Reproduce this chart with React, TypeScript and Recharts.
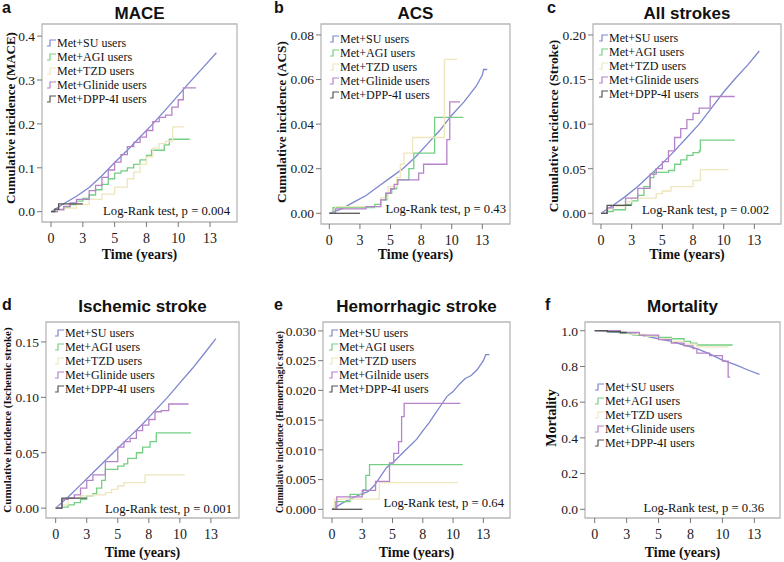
import React from "react";
import { LineChart, Line, XAxis, YAxis, ReferenceArea } from "recharts";

type Pt = [number, number];

const SERIES_NAMES = ["Met+SU users", "Met+AGI users", "Met+TZD users", "Met+Glinide users", "Met+DPP-4I users"];
const SERIES_NAMES_E = ["Met+SU users", "Met+AGI users", "Met+TZD users", "Met+Gilnide users", "Met+DPP-4I users"];
const COLORS = ["#7d87cf", "#74cf84", "#eee6bd", "#b583c9", "#555555"];
const LINE_TYPES = ["linear", "stepAfter", "stepAfter", "stepAfter", "stepAfter"] as const;

const X_TICKS = [0, 2.5, 5, 7.5, 10, 12.5];
const X_TICK_LABELS = ["0", "3", "5", "8", "10", "13"];

// a - MACE
const MACE_Y_TICKS = [0, 0.1, 0.2, 0.3, 0.4];
const MACE_SU: Pt[] = [[0, 0], [1, 0.018], [2, 0.035], [3, 0.055], [4, 0.082], [5, 0.112], [6, 0.14], [7, 0.17], [8, 0.2], [9, 0.232], [10, 0.265], [11, 0.298], [12, 0.33], [13, 0.362]];
const MACE_AGI: Pt[] = [[0, 0], [0.5, 0.004], [1, 0.01], [1.5, 0.016], [2, 0.024], [2.5, 0.03], [3, 0.038], [3.5, 0.05], [4, 0.062], [4.5, 0.075], [5, 0.088], [5.5, 0.093], [6, 0.1], [6.5, 0.108], [7, 0.118], [7.5, 0.128], [7.9, 0.14], [8.7, 0.14], [8.9, 0.152], [9.3, 0.165], [10.9, 0.165]];
const MACE_TZD: Pt[] = [[0, 0], [0.5, 0.003], [1, 0.008], [2, 0.016], [3, 0.028], [4, 0.04], [5, 0.056], [6, 0.075], [6.5, 0.09], [7, 0.108], [7.5, 0.125], [8, 0.145], [8.5, 0.155], [9, 0.16], [9.56, 0.193], [10.45, 0.193]];
const MACE_GLINIDE: Pt[] = [[0, 0], [0.5, 0.005], [1, 0.012], [1.5, 0.02], [2, 0.028], [3, 0.048], [3.5, 0.06], [4, 0.078], [4.5, 0.095], [5, 0.113], [5.5, 0.13], [6, 0.148], [6.5, 0.158], [7, 0.17], [7.5, 0.185], [8, 0.205], [8.5, 0.215], [9, 0.22], [9.5, 0.238], [10, 0.255], [10.4, 0.282], [11.4, 0.282]];
const MACE_DPP: Pt[] = [[0, 0], [0.3, 0.006], [0.6, 0.018], [2.5, 0.018]];

// b - ACS
const ACS_Y_TICKS = [0, 0.02, 0.04, 0.06, 0.08];
const ACS_SU: Pt[] = [[0, 0], [1, 0.002], [2, 0.005], [3, 0.008], [4, 0.012], [5, 0.016], [6, 0.02], [7, 0.025], [8, 0.031], [9, 0.037], [10, 0.044], [11, 0.05], [12, 0.057], [12.5, 0.062], [12.6, 0.0645], [12.9, 0.0645]];
const ACS_AGI: Pt[] = [[0, 0], [0.3, 0.0025], [3.5, 0.0025], [3.7, 0.004], [4.2, 0.006], [4.7, 0.009], [5.1, 0.011], [5.5, 0.015], [6.5, 0.02], [6.9, 0.027], [8.6, 0.043], [10.95, 0.043]];
const ACS_TZD: Pt[] = [[0, 0], [0.5, 0.003], [3.8, 0.003], [4.2, 0.007], [4.8, 0.012], [5.5, 0.016], [5.8, 0.022], [6.1, 0.027], [6.8, 0.034], [9.4, 0.069], [10.46, 0.069]];
const ACS_GLINIDE: Pt[] = [[0, 0], [0.5, 0.002], [3, 0.003], [4.2, 0.006], [4.6, 0.009], [5, 0.011], [5.3, 0.013], [5.6, 0.015], [7.07, 0.015], [7.3, 0.018], [7.7, 0.022], [9.4, 0.022], [9.6, 0.033], [9.84, 0.05], [10.68, 0.05]];
const ACS_DPP: Pt[] = [[0, 0], [2.5, 0]];

// c - All strokes
const STROKE_Y_TICKS = [0, 0.05, 0.1, 0.15, 0.2];
const STROKE_SU: Pt[] = [[0, 0], [1, 0.009], [2, 0.019], [3, 0.03], [4, 0.043], [5, 0.056], [6, 0.07], [7, 0.085], [8, 0.1], [9, 0.118], [10, 0.136], [11, 0.152], [12, 0.167], [12.9, 0.182]];
const STROKE_AGI: Pt[] = [[0, 0], [0.5, 0.002], [1, 0.004], [2, 0.01], [2.5, 0.014], [3, 0.02], [3.5, 0.03], [4, 0.04], [4.3, 0.046], [5.5, 0.048], [6, 0.055], [6.5, 0.06], [7, 0.065], [7.5, 0.068], [8, 0.07], [8.1, 0.082], [10.9, 0.082]];
const STROKE_TZD: Pt[] = [[0, 0], [0.5, 0.005], [1, 0.008], [2, 0.013], [2.5, 0.017], [4.3, 0.017], [4.5, 0.022], [5, 0.025], [5.7, 0.03], [7.5, 0.037], [8.1, 0.049], [10.4, 0.049]];
const STROKE_GLINIDE: Pt[] = [[0, 0], [0.5, 0.006], [1, 0.009], [2, 0.017], [3, 0.028], [4, 0.044], [4.5, 0.05], [5, 0.058], [5.5, 0.07], [6, 0.085], [6.5, 0.095], [7, 0.105], [7.5, 0.112], [8, 0.118], [8.9, 0.131], [10.9, 0.131]];
const STROKE_DPP: Pt[] = [[0, 0], [0.5, 0.009], [2.5, 0.009]];

// d - Ischemic stroke
const ISCH_Y_TICKS = [0, 0.05, 0.1, 0.15];
const ISCH_SU: Pt[] = [[0, 0], [1, 0.01], [2, 0.021], [3, 0.032], [4, 0.043], [5, 0.054], [6, 0.065], [7, 0.076], [8, 0.088], [9, 0.1], [10, 0.113], [11, 0.126], [12, 0.14], [12.9, 0.153]];
const ISCH_AGI: Pt[] = [[0, 0], [0.5, 0.001], [1, 0.003], [1.5, 0.005], [2, 0.008], [2.5, 0.011], [3, 0.013], [3.3, 0.018], [3.7, 0.025], [4, 0.035], [4.5, 0.035], [5, 0.038], [5.5, 0.04], [5.8, 0.045], [6.5, 0.05], [7, 0.055], [7.6, 0.06], [8.1, 0.068], [10.9, 0.068]];
const ISCH_TZD: Pt[] = [[0, 0], [0.5, 0.003], [1, 0.009], [2, 0.011], [3, 0.012], [4, 0.014], [4.5, 0.017], [5, 0.02], [5.5, 0.023], [7.2, 0.03], [10.4, 0.03]];
const ISCH_GLINIDE: Pt[] = [[0, 0], [0.5, 0.008], [1, 0.009], [1.5, 0.012], [2, 0.018], [2.5, 0.025], [3, 0.03], [4, 0.042], [5, 0.055], [5.5, 0.06], [6, 0.063], [6.5, 0.07], [7, 0.075], [7.5, 0.08], [8, 0.087], [8.5, 0.088], [9.1, 0.094], [10.7, 0.094]];
const ISCH_DPP: Pt[] = [[0, 0], [0.5, 0.009], [2.5, 0.009]];

// e - Hemorrhagic stroke
const HEM_Y_TICKS = [0, 0.005, 0.01, 0.015, 0.02, 0.025, 0.03];
const HEM_SU: Pt[] = [[0, 0], [1, 0.0012], [2, 0.0022], [3, 0.003], [3.5, 0.004], [4, 0.0055], [4.5, 0.007], [5, 0.0078], [6, 0.0098], [7, 0.0118], [7.5, 0.0132], [8, 0.0145], [8.5, 0.016], [9, 0.0175], [9.5, 0.019], [10, 0.0198], [10.5, 0.021], [11, 0.022], [11.5, 0.0225], [12, 0.0235], [12.5, 0.025], [12.7, 0.026], [13, 0.026]];
const HEM_AGI: Pt[] = [[0, 0], [0.3, 0.0013], [1.5, 0.0025], [2.6, 0.0033], [2.8, 0.0057], [3.1, 0.0075], [10.8, 0.0075]];
const HEM_TZD: Pt[] = [[0, 0], [0.2, 0.0017], [3.7, 0.0017], [3.9, 0.0045], [10.4, 0.0045]];
const HEM_GLINIDE: Pt[] = [[0, 0], [0.4, 0.0021], [2.3, 0.0021], [2.5, 0.0032], [3.5, 0.0032], [3.6, 0.0047], [4.7, 0.0047], [4.75, 0.0078], [5.1, 0.0094], [5.5, 0.0114], [5.75, 0.0156], [5.96, 0.0178], [10.6, 0.0178]];
const HEM_DPP: Pt[] = [[0, 0], [2.5, 0]];

// f - Mortality
const MORT_Y_TICKS = [0, 0.2, 0.4, 0.6, 0.8, 1.0];
const MORT_SU: Pt[] = [[0, 1], [1, 0.995], [2, 0.99], [3, 0.983], [4, 0.97], [5, 0.955], [6, 0.94], [7, 0.92], [8, 0.9], [9, 0.87], [10, 0.835], [11, 0.81], [12, 0.78], [12.9, 0.755]];
const MORT_AGI: Pt[] = [[0, 1], [1, 0.993], [2, 0.985], [3, 0.975], [4, 0.97], [5, 0.962], [6, 0.955], [7, 0.94], [7.5, 0.93], [8, 0.92], [10.8, 0.92]];
const MORT_TZD: Pt[] = [[0, 1], [2, 0.99], [3, 0.98], [4, 0.97], [5, 0.955], [6, 0.94], [7, 0.925], [8, 0.91], [10.4, 0.905]];
const MORT_GLINIDE: Pt[] = [[0, 1], [2, 0.99], [3, 0.99], [3.5, 0.975], [5, 0.95], [6, 0.93], [7, 0.915], [7.7, 0.9], [8, 0.875], [9, 0.86], [10, 0.83], [10.45, 0.74], [10.6, 0.74]];
const MORT_DPP: Pt[] = [[0, 1], [1, 0.995], [2, 0.99], [2.5, 0.99]];

const SERIF = '"Liberation Serif", "Times New Roman", serif';
const SANS_NARROW = '"Liberation Sans Narrow", "Liberation Sans", Arial, sans-serif';
const SANS = '"Liberation Sans", Arial, sans-serif';

interface Panel {
  letter: string;
  letterX: number;
  letterY: number;
  title: string;
  titleY: number;
  frame: { l: number; t: number; r: number; b: number };
  xDomain: [number, number];
  yDomain: [number, number];
  yTicks: number[];
  digits: number;
  yLabel: string;
  yLabelSize: number;
  yLabelPos: [number, number];
  xLabelY: number;
  series: Pt[][];
  names: string[];
  legend: [number, number];
  pText: string;
  pPos: [number, number];
}

const PANELS: Panel[] = [
  {
    letter: "a", letterX: 2, letterY: 13, title: "MACE", titleY: 19,
    frame: { l: 42, t: 24, r: 237, b: 222 },
    xDomain: [-0.71, 14.62], yDomain: [-0.0235, 0.4276], yTicks: MACE_Y_TICKS, digits: 1,
    yLabel: "Cumulative incidence (MACE)", yLabelSize: 13, yLabelPos: [10, 118], xLabelY: 259,
    series: [MACE_SU, MACE_AGI, MACE_TZD, MACE_GLINIDE, MACE_DPP], names: SERIES_NAMES,
    legend: [47, 43], pText: "Log-Rank test, p = 0.004", pPos: [230, 211],
  },
  {
    letter: "b", letterX: 274, letterY: 13, title: "ACS", titleY: 19,
    frame: { l: 321, t: 24, r: 510, b: 224 },
    xDomain: [-0.68, 14.76], yDomain: [-0.0048, 0.0849], yTicks: ACS_Y_TICKS, digits: 2,
    yLabel: "Cumulative incidence (ACS)", yLabelSize: 13.3, yLabelPos: [281, 122], xLabelY: 259,
    series: [ACS_SU, ACS_AGI, ACS_TZD, ACS_GLINIDE, ACS_DPP], names: SERIES_NAMES,
    legend: [330, 39], pText: "Log-Rank test, p = 0.43", pPos: [506, 209],
  },
  {
    letter: "c", letterX: 547, letterY: 13, title: "All strokes", titleY: 19,
    frame: { l: 593, t: 24, r: 781, b: 224 },
    xDomain: [-0.65, 14.67], yDomain: [-0.012, 0.2123], yTicks: STROKE_Y_TICKS, digits: 2,
    yLabel: "Cumulative incidence (Stroke)", yLabelSize: 13.3, yLabelPos: [553, 126], xLabelY: 259,
    series: [STROKE_SU, STROKE_AGI, STROKE_TZD, STROKE_GLINIDE, STROKE_DPP], names: SERIES_NAMES,
    legend: [599, 38], pText: "Log-Rank test, p = 0.002", pPos: [769, 210],
  },
  {
    letter: "d", letterX: 2, letterY: 310, title: "Ischemic stroke", titleY: 312,
    frame: { l: 46, t: 322, r: 239, b: 518 },
    xDomain: [-0.78, 14.76], yDomain: [-0.0089, 0.168], yTicks: ISCH_Y_TICKS, digits: 2,
    yLabel: "Cumulative incidence (Ischemic stroke)", yLabelSize: 11, yLabelPos: [7, 420], xLabelY: 557,
    series: [ISCH_SU, ISCH_AGI, ISCH_TZD, ISCH_GLINIDE, ISCH_DPP], names: SERIES_NAMES,
    legend: [55, 333], pText: "Log-Rank test, p = 0.001", pPos: [232, 509],
  },
  {
    letter: "e", letterX: 274, letterY: 310, title: "Hemorrhagic stroke", titleY: 312,
    frame: { l: 323, t: 322, r: 510, b: 518 },
    xDomain: [-0.74, 14.7], yDomain: [-0.00146, 0.0315], yTicks: HEM_Y_TICKS, digits: 3,
    yLabel: "Cumulative incidence (Hemorrhagic stroke)", yLabelSize: 9.7, yLabelPos: [279, 422], xLabelY: 557,
    series: [HEM_SU, HEM_AGI, HEM_TZD, HEM_GLINIDE, HEM_DPP], names: SERIES_NAMES_E,
    legend: [329, 333], pText: "Log-Rank test, p = 0.64", pPos: [504, 503],
  },
  {
    letter: "f", letterX: 545, letterY: 310, title: "Mortality", titleY: 312,
    frame: { l: 585, t: 322, r: 780, b: 518 },
    xDomain: [-0.76, 14.51], yDomain: [-0.0488, 1.0488], yTicks: MORT_Y_TICKS, digits: 1,
    yLabel: "Mortality", yLabelSize: 14, yLabelPos: [551, 418], xLabelY: 557,
    series: [MORT_SU, MORT_AGI, MORT_TZD, MORT_GLINIDE, MORT_DPP], names: SERIES_NAMES,
    legend: [595, 387], pText: "Log-Rank test, p = 0.36", pPos: [764, 508],
  },
];

const Y_AXIS_W = 40;
const X_AXIS_H = 25;

const toRows = (pts: Pt[]) => pts.map(([t, v]) => ({ t, v }));

const KMPanel: React.FC<{ p: Panel }> = ({ p }) => {
  const { l, t, r, b } = p.frame;
  const w = r - l + Y_AXIS_W + 5;
  const h = b - t + X_AXIS_H + 5;
  return (
    <div style={{ position: "absolute", left: l - Y_AXIS_W, top: t - 5 }}>
      <LineChart width={w} height={h} margin={{ top: 5, right: 5, bottom: 0, left: 0 }}>
        <XAxis
          type="number"
          dataKey="t"
          domain={p.xDomain}
          allowDataOverflow
          ticks={X_TICKS}
          interval={0}
          tickFormatter={(v: number) => X_TICK_LABELS[X_TICKS.indexOf(v)] ?? ""}
          axisLine={false}
          tickLine={{ stroke: "#777" }}
          tickSize={5}
          tickMargin={6}
          height={X_AXIS_H}
          tick={{ fontFamily: SERIF, fontSize: 14, fill: "#1a1a1a" }}
        />
        <YAxis
          type="number"
          domain={p.yDomain}
          allowDataOverflow
          ticks={p.yTicks}
          interval={0}
          tickFormatter={(v: number) => v.toFixed(p.digits)}
          axisLine={false}
          tickLine={{ stroke: "#777" }}
          tickSize={5}
          tickMargin={2}
          width={Y_AXIS_W}
          tick={{ fontFamily: SERIF, fontSize: 13.5, fill: "#1a1a1a" }}
        />
        <ReferenceArea
          x1={p.xDomain[0]}
          x2={p.xDomain[1]}
          y1={p.yDomain[0]}
          y2={p.yDomain[1]}
          fill="none"
          stroke="#b8b8b8"
          strokeWidth={1.3}
        />
        {p.series.map((s, i) => (
          <Line
            key={p.names[i]}
            data={toRows(s)}
            dataKey="v"
            name={p.names[i]}
            type={LINE_TYPES[i]}
            stroke={COLORS[i]}
            strokeWidth={1.3}
            dot={false}
            activeDot={false}
            isAnimationActive={false}
          />
        ))}
      </LineChart>
    </div>
  );
};

const Texts: React.FC<{ p: Panel }> = ({ p }) => {
  const cx = (p.frame.l + p.frame.r) / 2;
  return (
    <g>
      <text x={p.letterX} y={p.letterY} fontFamily={SANS} fontWeight="bold" fontSize={16} fill="#111">
        {p.letter}
      </text>
      <text x={cx} y={p.titleY} textAnchor="middle" fontFamily={SANS_NARROW} fontWeight="bold" fontSize={17} fill="#111">
        {p.title}
      </text>
      <text
        transform={`translate(${p.yLabelPos[0]},${p.yLabelPos[1]}) rotate(-90)`}
        textAnchor="middle"
        dominantBaseline="central"
        fontFamily={SERIF}
        fontWeight="bold"
        fontSize={p.yLabelSize}
        fill="#111"
      >
        {p.yLabel}
      </text>
      <text x={cx} y={p.xLabelY} textAnchor="middle" fontFamily={SERIF} fontWeight="bold" fontSize={14} fill="#111">
        Time (years)
      </text>
      <text
        x={p.pPos[0]}
        y={p.pPos[1]}
        textAnchor="end"
        dominantBaseline="central"
        fontFamily={SERIF}
        fontSize={12.7}
        fill="#111"
      >
        {p.pText}
      </text>
      {p.names.map((n, i) => {
        const x = p.legend[0];
        const y = p.legend[1] + i * 14;
        return (
          <g key={n}>
            <path d={`M${x} ${y + 3} H${x + 3} V${y - 3} H${x + 9}`} fill="none" stroke={COLORS[i]} strokeWidth={1.2} />
            <text x={x + 10} y={y} dominantBaseline="central" fontFamily={SERIF} fontSize={12} fill="#111">
              {n}
            </text>
          </g>
        );
      })}
    </g>
  );
};

export default function App() {
  return (
    <div style={{ position: "absolute", left: 0, top: 0, width: 784, height: 562, background: "#fff" }}>
      {PANELS.map((p) => (
        <KMPanel key={p.letter} p={p} />
      ))}
      <svg width={784} height={562} style={{ position: "absolute", left: 0, top: 0, pointerEvents: "none" }}>
        {PANELS.map((p) => (
          <Texts key={p.letter} p={p} />
        ))}
      </svg>
    </div>
  );
}
